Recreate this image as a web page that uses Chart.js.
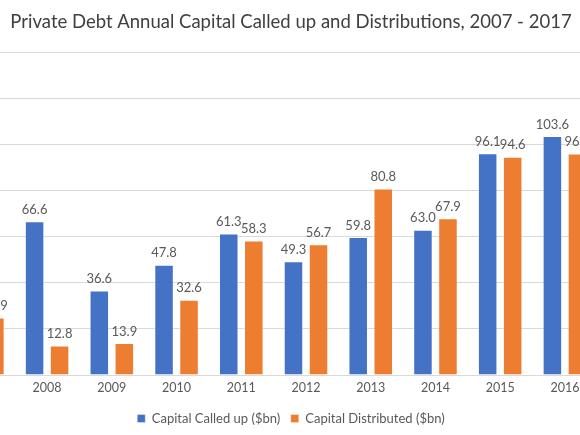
<!DOCTYPE html>
<html>
<head>
<meta charset="utf-8">
<script src="https://cdn.jsdelivr.net/npm/chart.js@4.4.0/dist/chart.umd.min.js"></script>
<style>
  html, body { margin: 0; padding: 0; background: #ffffff; overflow: hidden; }
  body { width: 580px; height: 435px; position: relative; }
  #wrap { position: absolute; left: -80px; top: 0; width: 742px; height: 435px; }
</style>
</head>
<body>
<div id="wrap"><canvas id="c"></canvas></div>
<script>
const years = ['2007', '2008', '2009', '2010', '2011', '2012', '2013', '2014', '2015', '2016', '2017'];
const calledUp = [30.0, 66.6, 36.6, 47.8, 61.3, 49.3, 59.8, 63.0, 96.1, 103.6, 85.0];
const distributed = [24.9, 12.8, 13.9, 32.6, 58.3, 56.7, 80.8, 67.9, 94.6, 96.0, 90.0];
const yMin = 0, yMax = 140, yStep = 20;

const FONT = 'Lato, "Open Sans", sans-serif';

const valueLabels = {
  id: 'valueLabels',
  afterDatasetsDraw(chart) {
    const ctx = chart.ctx;
    ctx.save();
    ctx.font = '13px ' + FONT;
    ctx.fillStyle = '#595959';
    ctx.textAlign = 'center';
    ctx.textBaseline = 'bottom';
    chart.data.datasets.forEach((ds, i) => {
      const meta = chart.getDatasetMeta(i);
      meta.data.forEach((el, j) => {
        ctx.fillText(ds.data[j].toFixed(1), el.x, el.y - 5);
      });
    });
    ctx.restore();
  }
};

new Chart(document.getElementById('c'), {
  type: 'bar',
  data: {
    labels: years,
    datasets: [
      { label: 'Capital Called up ($bn)', data: calledUp, backgroundColor: '#4472C4', borderColor: 'rgba(255,255,255,0.35)', borderWidth: 1 },
      { label: 'Capital Distributed ($bn)', data: distributed, backgroundColor: '#ED7D31', borderColor: 'rgba(255,255,255,0.35)', borderWidth: 1 }
    ]
  },
  options: {
    responsive: true,
    maintainAspectRatio: false,
    animation: false,
    layout: { padding: { left: 0, right: 0, top: 0, bottom: 0 } },
    datasets: { bar: { categoryPercentage: 0.773, barPercentage: 0.78 } },
    plugins: {
      title: {
        display: true,
        text: 'Private Debt Annual Capital Called up and Distributions, 2007 - 2017',
        color: '#404040',
        font: { family: FONT, size: 18.5, weight: 'normal' },
        padding: { top: 11, bottom: 18.8 }
      },
      legend: {
        display: true,
        position: 'bottom',
        labels: {
          color: '#595959',
          font: { family: FONT, size: 13 },
          boxWidth: 8,
          boxHeight: 8,
          padding: 10.5
        }
      },
      tooltip: { enabled: false }
    },
    scales: {
      x: {
        grid: { display: false, drawTicks: false },
        border: { display: true, color: '#d9d9d9' },
        ticks: { color: '#595959', font: { family: FONT, size: 12.5, lineHeight: 1.0 }, padding: 7 }
      },
      y: {
        min: yMin, max: yMax,
        ticks: { display: false, stepSize: yStep },
        grid: { color: '#d9d9d9', drawTicks: false },
        border: { display: false },
        afterFit(s) { s.width = 30; }
      }
    }
  },
  plugins: [valueLabels]
});
</script>
</body>
</html>
